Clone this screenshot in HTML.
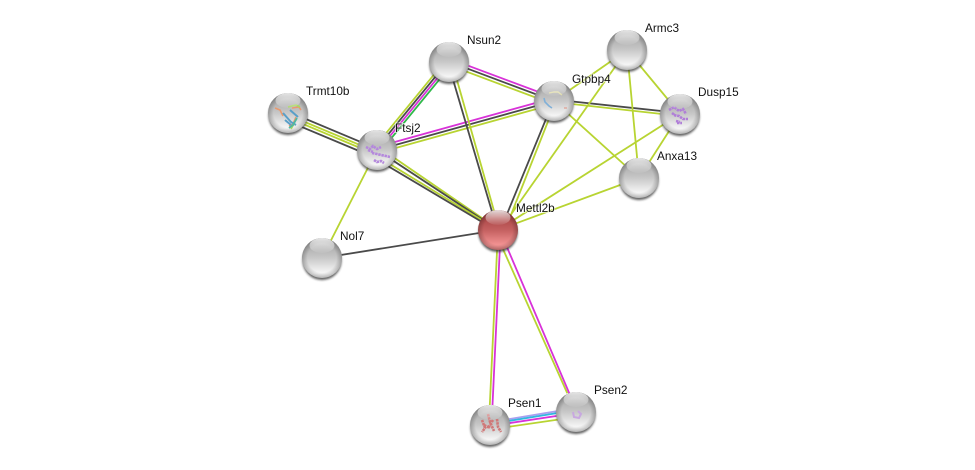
<!DOCTYPE html>
<html><head><meta charset="utf-8"><style>
html,body{margin:0;padding:0;background:#fff;width:975px;height:470px;overflow:hidden}
svg{display:block}
text{font:11.8px "Liberation Sans",sans-serif;fill:#111;stroke:rgba(255,255,255,.6);stroke-width:2px;paint-order:stroke}
.g{stroke:#b8d432}.d{stroke:#4a4a4a}.m{stroke:#d832d8}
line{stroke-width:1.8;fill:none}
</style></head><body>
<svg width="975" height="470" viewBox="0 0 975 470" xmlns="http://www.w3.org/2000/svg">
<defs>
<linearGradient id="b" x1="0" y1="0" x2="0" y2="1"><stop offset="0" stop-color="#848484"/><stop offset=".14" stop-color="#a8a8a8"/><stop offset=".5" stop-color="#c8c8c8"/><stop offset=".88" stop-color="#f8f8f8"/><stop offset="1" stop-color="#ececec"/></linearGradient>
<linearGradient id="r" x1="0" y1="0" x2="0" y2="1"><stop offset="0" stop-color="#8c2c2c"/><stop offset=".14" stop-color="#a84444"/><stop offset=".5" stop-color="#c46060"/><stop offset=".88" stop-color="#f49494"/><stop offset="1" stop-color="#e88484"/></linearGradient>
<radialGradient id="rim" cx=".5" cy=".5" r=".5"><stop offset=".72" stop-color="#000" stop-opacity="0"/><stop offset="1" stop-color="#000" stop-opacity=".24"/></radialGradient>
<linearGradient id="h" x1="0" y1="0" x2="0" y2="1"><stop offset="0" stop-color="#fff" stop-opacity=".85"/><stop offset="1" stop-color="#fff" stop-opacity=".05"/></linearGradient>
<filter id="s" x="-30%" y="-30%" width="160%" height="160%"><feGaussianBlur stdDeviation="1"/></filter>
</defs>

<!-- Trmt10b-Ftsj2 -->
<line class="d" x1="288" y1="111.5" x2="377" y2="148.8"/>
<line class="g" x1="288" y1="114.9" x2="377" y2="152.2"/>
<line class="g" x1="288" y1="117.7" x2="377" y2="155"/>
<line class="d" x1="288" y1="121.2" x2="377" y2="158.5"/>
<!-- Ftsj2-Nsun2 -->
<line class="g" x1="374.2" y1="147.7" x2="446.2" y2="59.7"/>
<line class="d" x1="376.1" y1="149.2" x2="448.1" y2="61.2"/>
<line class="m" x1="377.9" y1="150.8" x2="449.9" y2="62.8"/>
<line stroke="#2fb84a" x1="379.8" y1="152.3" x2="451.8" y2="64.3"/>
<!-- Ftsj2-Gtpbp4 -->
<line class="m" x1="376.2" y1="147.1" x2="553.2" y2="98.1"/>
<line class="d" x1="377" y1="150" x2="554" y2="101"/>
<line class="g" x1="377.8" y1="152.9" x2="554.8" y2="103.9"/>
<!-- Ftsj2-Mettl2b -->
<line class="g" x1="377" y1="146" x2="498" y2="229"/>
<line class="d" x1="377" y1="150" x2="498" y2="229.8"/>
<line class="g" x1="377" y1="156.3" x2="498" y2="230"/>
<line class="d" x1="377" y1="159.6" x2="498" y2="231.5"/>
<!-- Ftsj2-Nol7 -->
<line class="g" x1="377" y1="150" x2="322" y2="258"/>
<!-- Nsun2-Gtpbp4 -->
<line class="m" x1="449.8" y1="58.8" x2="554.8" y2="98"/>
<line class="d" x1="449" y1="61.7" x2="554" y2="101"/>
<line class="g" x1="448" y1="64.7" x2="553" y2="104"/>
<!-- Nsun2-Mettl2b -->
<line class="d" x1="449" y1="66" x2="498" y2="232"/>
<line class="g" x1="453" y1="66" x2="498" y2="225"/>
<!-- Gtpbp4-Mettl2b -->
<line class="d" x1="554" y1="99.5" x2="498" y2="236"/>
<line class="g" x1="556.5" y1="100" x2="503" y2="235"/>
<!-- Gtpbp4-Dusp15 -->
<line class="d" x1="554" y1="99.5" x2="680" y2="113"/>
<line class="g" x1="554" y1="102" x2="680" y2="116"/>
<!-- Single green edges -->
<line class="g" x1="554" y1="101" x2="627" y2="50"/>
<line class="g" x1="554" y1="101" x2="639" y2="178"/>
<line class="g" x1="627" y1="50" x2="500" y2="230"/>
<line class="g" x1="627" y1="50" x2="680" y2="114"/>
<line class="g" x1="627" y1="50" x2="639" y2="178"/>
<line class="g" x1="680" y1="114" x2="639" y2="178"/>
<line class="g" x1="680" y1="114" x2="498" y2="230"/>
<line class="g" x1="639" y1="178" x2="498" y2="230"/>
<!-- Mettl2b-Nol7 -->
<line class="d" x1="498" y1="230" x2="322" y2="258"/>
<!-- Mettl2b-Psen1 -->
<line class="g" x1="498" y1="230" x2="489.8" y2="405"/>
<line class="m" x1="500.7" y1="230" x2="492.5" y2="405"/>
<!-- Mettl2b-Psen2 -->
<line class="g" x1="494.5" y1="230" x2="567.3" y2="393.3"/>
<line class="m" x1="498.8" y1="228" x2="569.3" y2="393.3"/>
<!-- Psen1-Psen2 -->
<line stroke="#a9a0f0" x1="490" y1="422.3" x2="576" y2="408"/>
<line stroke="#30b8e0" x1="490" y1="424" x2="576" y2="410"/>
<line class="m" x1="490" y1="426" x2="576" y2="413"/>
<line class="g" x1="490" y1="429.5" x2="576" y2="417"/>

<!-- Nodes -->
<g id="nodes">
<circle cx="288" cy="115.5" r="19.6" fill="#333" opacity=".75" filter="url(#s)"/>
<circle cx="288" cy="113" r="20" fill="url(#b)"/><circle cx="288" cy="113" r="20" fill="url(#rim)"/>
<path d="M275 108l5 2 3 6M292 108l7-1 2 3M296 117l-3 7-4 2" fill="none" stroke="#e89a70" stroke-width="1.6"/>
<path d="M283 113l8 9 5 3M285 120l6 5M290 110l8 7" fill="none" stroke="#5a9fc8" stroke-width="2"/>
<path d="M288 107l8-2 4 2M294 124l-3 5" fill="none" stroke="#a8d860" stroke-width="1.6"/>
<path d="M289 128l4-3 4-7" fill="none" stroke="#50b8a0" stroke-width="1.8"/>
<ellipse cx="288" cy="100.5" rx="12.5" ry="7.5" fill="url(#h)"/>

<circle cx="377" cy="152.5" r="19.6" fill="#333" opacity=".75" filter="url(#s)"/>
<circle cx="377" cy="150" r="20" fill="url(#b)"/><circle cx="377" cy="150" r="20" fill="url(#rim)"/>
<path d="M366 147l4 2 3-3 4 3 4-2M372 153l5 1 4 1 5 1 4 1M374 160l3 2 4-1 3 2M368 150l5 2" fill="none" stroke="#b488dc" stroke-width="2.6" stroke-dasharray="2.5 .7"/>
<ellipse cx="377" cy="137.5" rx="12.5" ry="7.5" fill="url(#h)"/>

<circle cx="449" cy="64.5" r="19.6" fill="#333" opacity=".75" filter="url(#s)"/>
<circle cx="449" cy="62" r="20" fill="url(#b)"/><circle cx="449" cy="62" r="20" fill="url(#rim)"/>
<ellipse cx="449" cy="49.5" rx="12.5" ry="7.5" fill="url(#h)"/>

<circle cx="554" cy="103.5" r="19.6" fill="#333" opacity=".75" filter="url(#s)"/>
<circle cx="554" cy="101" r="20" fill="url(#b)"/><circle cx="554" cy="101" r="20" fill="url(#rim)"/>
<path d="M544 98l1 4 4 4 3 2" fill="none" stroke="#80b0d8" stroke-width="1.6"/>
<path d="M549 93l5-1 4 0 4 3" fill="none" stroke="#e0dca8" stroke-width="1.4"/>
<path d="M564 108h3" stroke="#e09080" stroke-width="1"/>
<ellipse cx="554" cy="88.5" rx="12.5" ry="7.5" fill="url(#h)"/>

<circle cx="627" cy="52.5" r="19.6" fill="#333" opacity=".75" filter="url(#s)"/>
<circle cx="627" cy="50" r="20" fill="url(#b)"/><circle cx="627" cy="50" r="20" fill="url(#rim)"/>
<ellipse cx="627" cy="37.5" rx="12.5" ry="7.5" fill="url(#h)"/>

<circle cx="680" cy="116.5" r="19.6" fill="#333" opacity=".75" filter="url(#s)"/>
<circle cx="680" cy="114" r="20" fill="url(#b)"/><circle cx="680" cy="114" r="20" fill="url(#rim)"/>
<path d="M669 110l5-3 5 4 4-2 3 5M674 115l5 1 4 3 5 0M676 121l4 1M677 123h5M672 113l4 3" fill="none" stroke="#b07ed8" stroke-width="2.6" stroke-dasharray="2.5 .7"/>
<ellipse cx="680" cy="101.5" rx="12.5" ry="7.5" fill="url(#h)"/>

<circle cx="639" cy="180.5" r="19.6" fill="#333" opacity=".75" filter="url(#s)"/>
<circle cx="639" cy="178" r="20" fill="url(#b)"/><circle cx="639" cy="178" r="20" fill="url(#rim)"/>
<ellipse cx="639" cy="165.5" rx="12.5" ry="7.5" fill="url(#h)"/>

<circle cx="498" cy="232.5" r="19.6" fill="#333" opacity=".8" filter="url(#s)"/>
<circle cx="498" cy="230" r="20" fill="url(#r)"/><circle cx="498" cy="230" r="20" fill="url(#rim)"/>
<ellipse cx="498" cy="217.5" rx="12.5" ry="7.5" fill="url(#h)"/>

<circle cx="322" cy="260.5" r="19.6" fill="#333" opacity=".75" filter="url(#s)"/>
<circle cx="322" cy="258" r="20" fill="url(#b)"/><circle cx="322" cy="258" r="20" fill="url(#rim)"/>
<ellipse cx="322" cy="245.5" rx="12.5" ry="7.5" fill="url(#h)"/>

<circle cx="490" cy="427.5" r="19.6" fill="#333" opacity=".75" filter="url(#s)"/>
<circle cx="490" cy="425" r="20" fill="url(#b)"/><circle cx="490" cy="425" r="20" fill="url(#rim)"/>
<path d="M482 420l3 8-3 4M488 414l2 8 4 9M493 420l-5 8M497 419l1 8 3 5M484 425l6 3" fill="none" stroke="#d07878" stroke-width="2.6" stroke-dasharray="2.5 .7"/>
<ellipse cx="490" cy="412.5" rx="12.5" ry="7.5" fill="url(#h)"/>

<circle cx="576" cy="414.5" r="19.6" fill="#333" opacity=".75" filter="url(#s)"/>
<circle cx="576" cy="412" r="20" fill="url(#b)"/><circle cx="576" cy="412" r="20" fill="url(#rim)"/>
<path d="M573 412l1 5 5 1 2-4-3-3" fill="none" stroke="#c8a8e0" stroke-width="2"/>
<ellipse cx="576" cy="399.5" rx="12.5" ry="7.5" fill="url(#h)"/>
</g>

<text x="306" y="95">Trmt10b</text>
<text x="395" y="132">Ftsj2</text>
<text x="467" y="44">Nsun2</text>
<text x="572" y="83">Gtpbp4</text>
<text x="645" y="32">Armc3</text>
<text x="698" y="96">Dusp15</text>
<text x="657" y="160">Anxa13</text>
<text x="516" y="212">Mettl2b</text>
<text x="340" y="240">Nol7</text>
<text x="508" y="407">Psen1</text>
<text x="594" y="394">Psen2</text>
</svg>
</body></html>
